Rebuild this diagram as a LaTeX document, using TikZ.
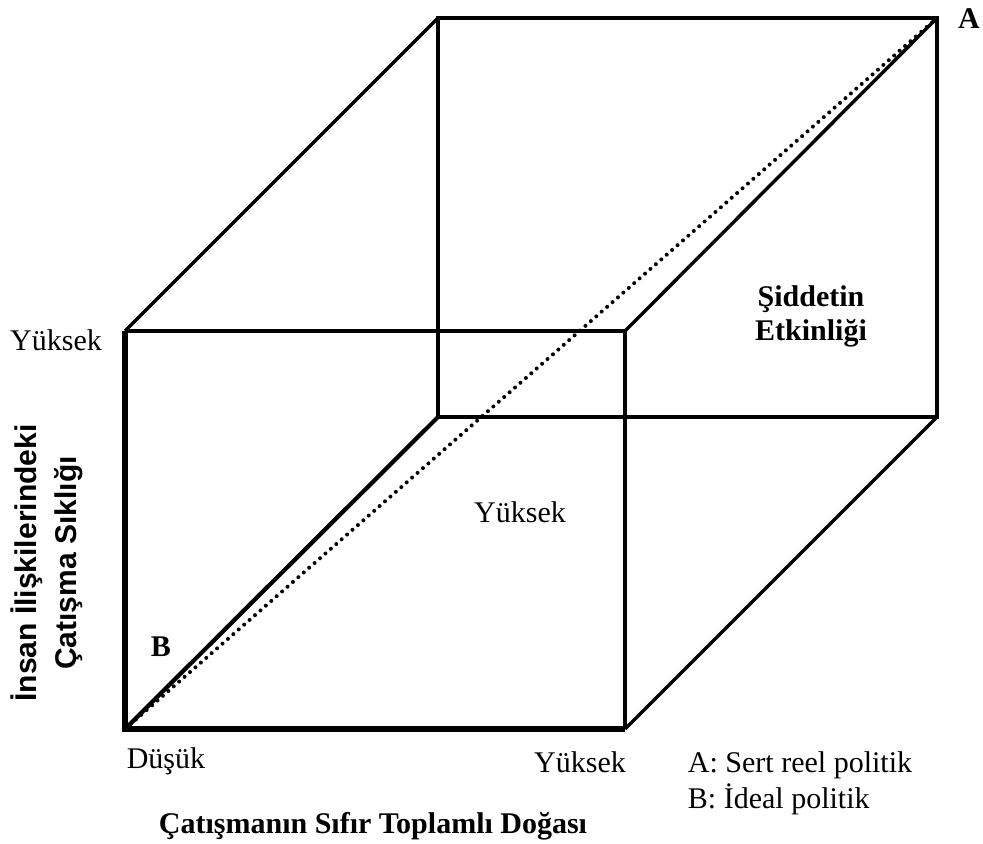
\documentclass[tikz,border=0pt]{standalone}
\usepackage{fontspec}
\setmainfont{Liberation Serif}
\newfontfamily\sansfnt{Liberation Sans}
\begin{document}
\begin{tikzpicture}[x=0.5pt,y=-0.5pt,
  thinedge/.style={line width=1.7pt,line join=miter},
  thickedge/.style={line width=2.7pt,line join=miter},
  diagedge/.style={line width=2.1pt},
  dotline/.style={line width=2pt,line cap=round,dash pattern=on 0pt off 3.6pt},
  lbl/.style={font=\fontsize{15}{18}\selectfont,inner sep=0pt},
  blbl/.style={font=\fontsize{15}{18}\selectfont\bfseries,inner sep=0pt,align=center},
  slbl/.style={font=\fontsize{15}{20}\selectfont\sansfnt\bfseries,inner sep=0pt,align=center}]
\useasboundingbox (0,0) rectangle (983,844);
% cube corners
\coordinate (FBL) at (125,729);
\coordinate (FBR) at (625,729);
\coordinate (FTR) at (625,331);
\coordinate (FTL) at (125,331);
\coordinate (BBL) at (438,417);
\coordinate (BBR) at (937,417);
\coordinate (BTR) at (937,18);
\coordinate (BTL) at (438,18);
% back face
\draw[thinedge] (BBL) -- (BBR) -- (BTR) -- (BTL) -- cycle;
% connecting edges
\draw[thinedge] (FTL) -- (BTL);
\draw[thinedge] (FTR) -- (BTR);
\draw[thinedge] (FBR) -- (BBR);
\draw[diagedge] (FBL) -- (BBL);
% dotted diagonal
\draw[dotline] (FBL) -- (BTR);
% front face
\draw[thinedge] (FTL) -- (FTR) -- (FBR);
\draw[thickedge] (FTL) -- (FBL) -- (FBR);
% labels
\node[lbl] (yl) at (56,340) {Yüksek};
\node[lbl] (dl) at (166,761) {Düşük};
\node[lbl] (yr) at (580,762) {Yüksek};
\node[lbl] (ym) at (520,512) {Yüksek};
\node[blbl] (B) at (161,647) {B};
\node[blbl] (A) at (969,19) {A};
\node[blbl] (sid) at (811,316) {Şiddetin\\[-1pt]Etkinliği};
\node[blbl] (xt) at (373,826) {Çatışmanın Sıfır Toplamlı Doğası};
\node[lbl,align=left] (leg) at (800,783) {A: Sert reel politik\\B: İdeal politik};
\node[slbl,rotate=90] (yt) at (47,563) {İnsan İlişkilerindeki\\Çatışma Sıklığı};
\end{tikzpicture}
\end{document}
